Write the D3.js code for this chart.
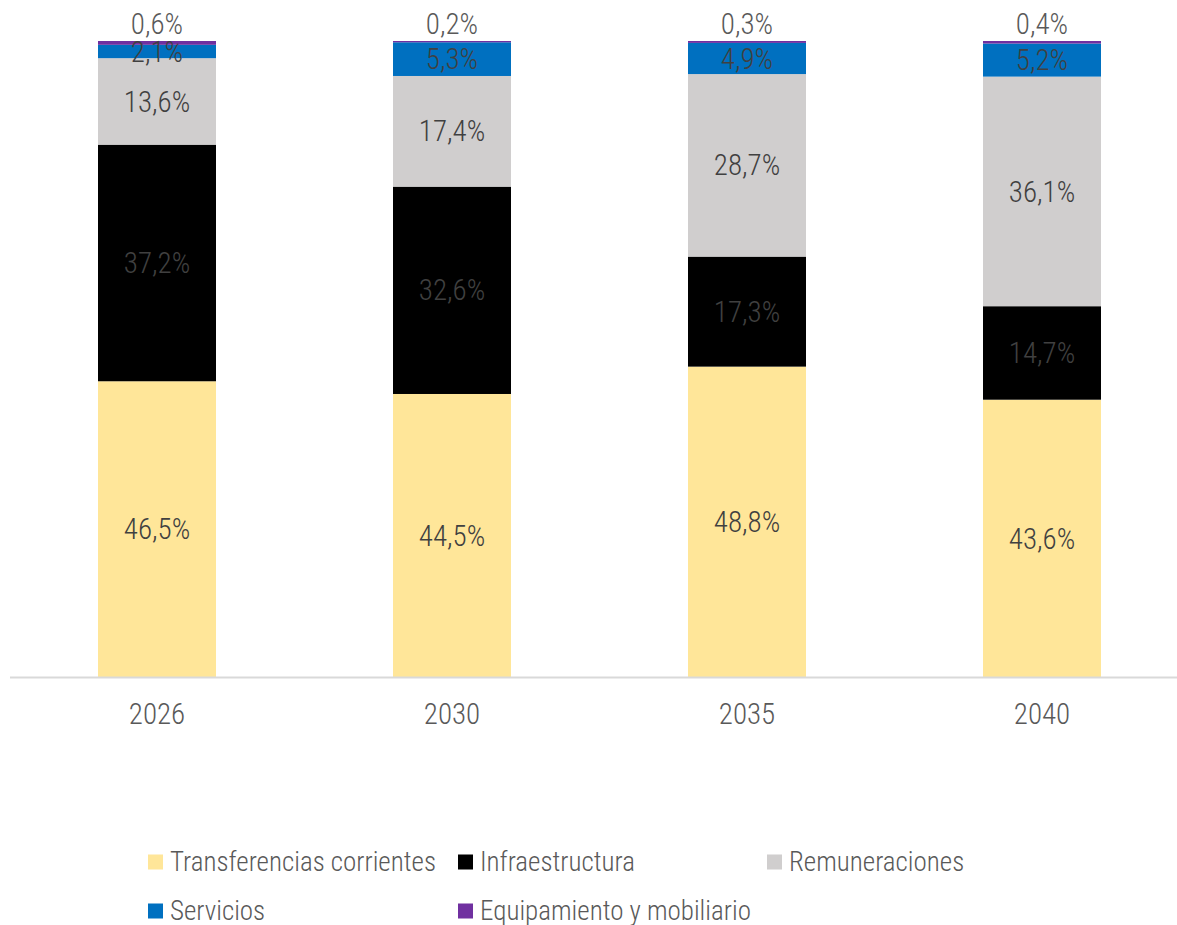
<!DOCTYPE html>
<html><head><meta charset="utf-8">
<script src="https://cdn.jsdelivr.net/npm/d3@7"></script>
<style>
body{margin:0;background:#fff;}
text{font-family:"Liberation Sans Narrow","Roboto Condensed","Roboto",sans-serif;font-weight:300;}
</style></head>
<body><svg id="c" width="1177" height="925"></svg>
<script>
const years = ["2026","2030","2035","2040"];
const seriesNames = ["Transferencias corrientes","Infraestructura","Remuneraciones","Servicios","Equipamiento y mobiliario"];
const transferencias = [46.5,44.5,48.8,43.6];
const infraestructura = [37.2,32.6,17.3,14.7];
const remuneraciones = [13.6,17.4,28.7,36.1];
const servicios = [2.1,5.3,4.9,5.2];
const equipamiento = [0.6,0.2,0.3,0.4];
const colors = ["#FFE699","#000000","#D0CECE","#0070C0","#7030A0"];

const values = [transferencias,infraestructura,remuneraciones,servicios,equipamiento];
const rows = years.map((y,i)=>{const o={year:y}; seriesNames.forEach((s,j)=>o[s]=values[j][i]); return o;});
const stack = d3.stack().keys(seriesNames)(rows);

const svg = d3.select("#c");
const x = d3.scaleBand().domain(years).range([9.5,1189.5]).paddingInner(0.6).paddingOuter(0.3);
const y = d3.scaleLinear().domain([0,100]).range([677,41]);

const fmt = v => d3.format(".1f")(v).replace(".",",")+"%";

const g = svg.append("g");
stack.forEach((layer,j)=>{
  g.selectAll(null).data(layer).enter().append("rect")
    .attr("x",d=>x(d.data.year)).attr("width",x.bandwidth())
    .attr("y",d=>y(d[1])).attr("height",d=>y(d[0])-y(d[1]))
    .attr("fill",colors[j]);
});
// axis
const ax = svg.append("g").attr("transform","translate(0,677)").call(d3.axisBottom(x).tickSize(0).tickPadding(26));
ax.select(".domain").attr("stroke","#D9D9D9").attr("stroke-width",2).attr("d","M10,0.5H1177");
ax.selectAll("text").attr("font-size",29).attr("fill","#595959").attr("font-family",null);

// labels
stack.forEach((layer,j)=>{
  g.selectAll(null).data(layer).enter().append("text")
    .attr("x",d=>x(d.data.year)+x.bandwidth()/2)
    .attr("y",d=> j===4 ? y(d[1])-7 : (y(d[0])+y(d[1]))/2)
    .attr("dy", j===4 ? 0 : "0.35em")
    .attr("text-anchor","middle")
    .attr("font-size",29)
    .attr("fill", j===4 ? "#595959" : "#404040")
    .text(d=>fmt(d[1]-d[0]));
});

// legend
const legPos = [[148,862],[458,862],[767,862],[148,911],[458,911]];
seriesNames.forEach((s,j)=>{
  const lg = svg.append("g").attr("transform",`translate(${legPos[j][0]},${legPos[j][1]})`);
  lg.append("rect").attr("x",0).attr("y",-7.5).attr("width",15).attr("height",15).attr("fill",colors[j]);
  lg.append("text").attr("x",22).attr("y",0).attr("dy","0.33em").attr("font-size",27).attr("fill","#595959").text(s);
});
</script></body></html>
